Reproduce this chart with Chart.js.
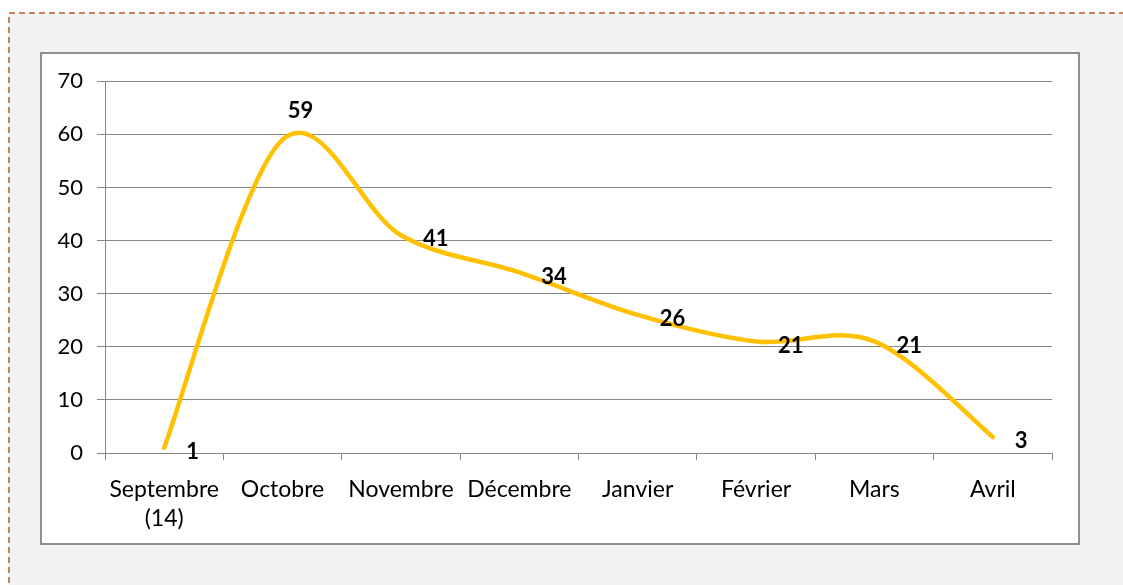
<!DOCTYPE html>
<html>
<head>
<meta charset="utf-8">
<script src="https://cdn.jsdelivr.net/npm/chart.js@4/dist/chart.umd.min.js"></script>
<style>
  html, body { margin: 0; padding: 0; background: #fff; }
  body { width: 1123px; height: 585px; position: relative; overflow: hidden; }
  #frame { position: absolute; left: 0; top: 0; }
  #box {
    position: absolute; left: 40px; top: 52px; width: 1040px; height: 493px;
    box-sizing: border-box; border: 2px solid #8e8e8e; background: #fff;
  }
  #chartWrap { position: absolute; left: 42px; top: 54px; width: 1036px; height: 489px; }
</style>
</head>
<body>
<svg id="frame" width="1123" height="585">
  <rect x="9" y="13" width="1130" height="600" fill="#f2f2f2" stroke="#c9825f" stroke-width="2" stroke-dasharray="6 4"></rect>
</svg>
<div id="box"></div>
<div id="chartWrap"><canvas id="chart"></canvas></div>
<script>
  // Monthly counts
  const categories = [["Septembre", "(14)"], "Octobre", "Novembre", "Décembre", "Janvier", "Février", "Mars", "Avril"];
  const counts = [1, 59, 41, 34, 26, 21, 21, 3];
  const yTicks = [0, 10, 20, 30, 40, 50, 60, 70];

  const fontFamily = "Lato, 'Open Sans', sans-serif";

  // Spreadsheet-style smoothing: control points at 1/6 of (next - prev)
  const smoothLine = {
    id: "smoothLine",
    beforeDatasetsDraw(chart) {
      const meta = chart.getDatasetMeta(0);
      const line = meta.dataset;
      if (!line || !line.updateControlPoints) return;
      line.updateControlPoints(chart.chartArea, "x");
      const pts = meta.data;
      pts.forEach((p, i) => {
        const prev = pts[i - 1] || p;
        const next = pts[i + 1] || p;
        const dx = (next.x - prev.x) / 6;
        const dy = (next.y - prev.y) / 6;
        p.cp1x = p.x - dx;
        p.cp1y = p.y - dy;
        p.cp2x = p.x + dx;
        p.cp2y = p.y + dy;
      });
      line._pointsUpdated = true;
      line._path = undefined;
    },
  };

  // Draw the value next to each point (the peak one sits above the curve)
  const valueLabels = {
    id: "valueLabels",
    afterDatasetsDraw(chart) {
      const ctx = chart.ctx;
      const meta = chart.getDatasetMeta(0);
      const values = chart.data.datasets[0].data;
      const peak = values.indexOf(Math.max(...values));
      ctx.save();
      ctx.font = "bold 22px " + fontFamily;
      ctx.fillStyle = "#000";
      ctx.textBaseline = "middle";
      meta.data.forEach((pt, i) => {
        if (i === peak) {
          ctx.textAlign = "center";
          ctx.fillText(String(values[i]), pt.x + 18, pt.y - 29);
        } else {
          ctx.textAlign = "left";
          ctx.fillText(String(values[i]), pt.x + 22, pt.y + 4);
        }
      });
      ctx.restore();
    },
  };

  new Chart(document.getElementById("chart"), {
    type: "line",
    data: {
      labels: categories,
      datasets: [
        {
          data: counts,
          borderColor: "#FFC000",
          borderWidth: 4.5,
          borderCapStyle: "round",
          borderJoinStyle: "round",
          pointRadius: 0,
          pointHoverRadius: 0,
          tension: 0.4,
          fill: false,
        },
      ],
    },
    options: {
      responsive: true,
      maintainAspectRatio: false,
      animation: false,
      events: [],
      layout: { padding: { top: 25, right: 26, left: 0, bottom: 0 } },
      plugins: { legend: { display: false }, tooltip: { enabled: false } },
      scales: {
        x: {
          type: "category",
          offset: true,
          grid: {
            offset: true,
            drawOnChartArea: false,
            drawTicks: true,
            tickLength: 7,
            color: "#868686",
            lineWidth: 1,
          },
          border: { display: true, color: "#868686", width: 1 },
          ticks: {
            color: "#000",
            font: { family: fontFamily, size: 23, lineHeight: 1.25 },
            padding: 15,
            maxRotation: 0,
            autoSkip: false,
          },
          afterFit(scale) {
            scale.height = 90;
          },
        },
        y: {
          min: 0,
          max: 70,
          afterBuildTicks(scale) {
            scale.ticks = yTicks.map((v) => ({ value: v }));
          },
          grid: {
            color: "#868686",
            lineWidth: 1,
            drawTicks: true,
            tickLength: 8,
          },
          border: { display: true, color: "#868686", width: 1 },
          ticks: {
            color: "#000",
            font: { family: fontFamily, size: 22 },
            padding: 14,
          },
          afterFit(scale) {
            scale.width = 63;
          },
        },
      },
    },
    plugins: [smoothLine, valueLabels],
  });
</script>
</body>
</html>
